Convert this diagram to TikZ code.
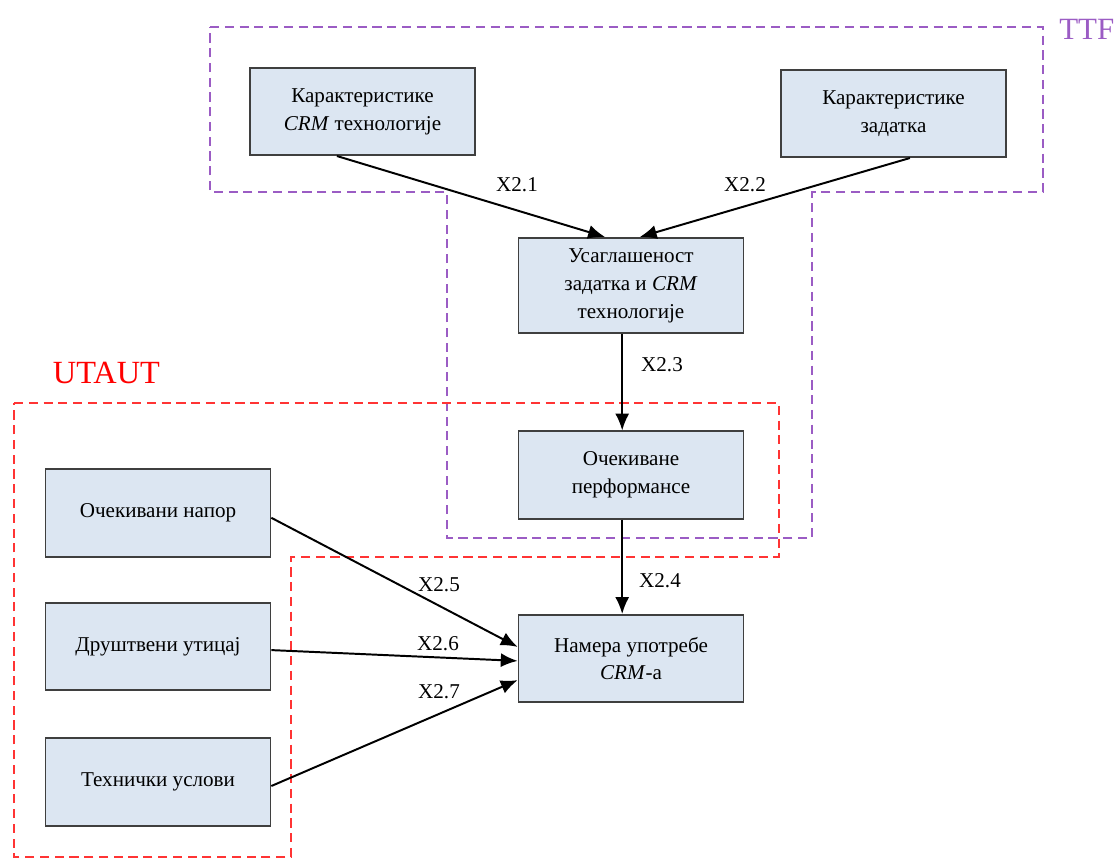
\documentclass[tikz,border=0pt]{standalone}
\usepackage{fontspec}
\setmainfont{Liberation Serif}
\usetikzlibrary{arrows.meta,calc,positioning}
\definecolor{BoxFill}{HTML}{DCE6F2}
\definecolor{BoxEdge}{HTML}{3F3F3F}
\definecolor{TTFPurple}{HTML}{9B5CC4}
\definecolor{UTAUTRed}{HTML}{FF3434}

\begin{document}
\begin{tikzpicture}[x=0.025cm,y=-0.025cm,>={Latex[length=12pt,width=10pt]},
    every node/.style={font=\fontsize{15}{19.8}\selectfont},
    block/.style={draw=BoxEdge,fill=BoxFill,line width=1.3pt,minimum width=5.62cm,
      minimum height=2.18cm,align=center,inner sep=2pt},
    link/.style={->,line width=1.4pt,black},
    region/.style={dash pattern=on 6.5pt off 4pt,line width=1.5pt}]
  \useasboundingbox (0,0) rectangle (1116,859);

  % dashed model regions
  \draw[region,TTFPurple] (210,27) -- (1043,27) -- (1043,192) -- (812,192) -- (812,538)
    -- (447,538) -- (447,192) -- (210,192) -- cycle;
  \draw[region,UTAUTRed] (14,403) -- (779,403) -- (779,557) -- (291,557) -- (291,857)
    -- (14,857) -- cycle;
  \node[font=\fontsize{22}{26}\selectfont,text=TTFPurple,anchor=base east,inner xsep=1pt] (ttf) at (1116,40) {TTF};
  \node[font=\fontsize{23}{26}\selectfont,text=red,anchor=base west] (utaut) at (48,383) {UTAUT};

  % constructs
  \node[block] (crmtech) at (362.5,111.5) {Карактеристике\\\textit{CRM} технологије};
  \node[block] (task) at (893.5,113.5) {Карактеристике\\задатка};
  \node[block,minimum height=2.38cm] (fit) at (631,285.5) {Усаглашеност\\задатка и \textit{CRM}\\технологије};
  \node[block] (perf) at (631,475) {Очекиване\\перформансе};
  \node[block] (intent) at (631,658.5) {Намера употребе\\\textit{CRM}-а};
  \node[block] (effort) at (158,513) {Очекивани напор};
  \node[block] (social) at (158,646.5) {Друштвени утицај};
  \node[block] (cond) at (158,782) {Технички услови};

  % hypotheses
  \draw[link] ([xshift=-0.64cm]crmtech.south) -- ([xshift=-0.65cm]fit.north);
  \draw[link] ([xshift=0.41cm]task.south) -- ([xshift=0.22cm]fit.north);
  \draw[link] ([xshift=-0.22cm]fit.south) -- ([xshift=-0.22cm]perf.north);
  \draw[link] ([xshift=-0.22cm]perf.south) -- ([xshift=-0.22cm]intent.north);
  \draw[link] ([yshift=-0.12cm]effort.east) -- ([yshift=0.29cm]intent.west);
  \draw[link] ([yshift=-0.09cm]social.east) -- ([yshift=-0.06cm]intent.west);
  \draw[link] ([yshift=-0.1cm]cond.east) -- ([yshift=-0.54cm]intent.west);

  \node (h1) at (517,185) {X2.1};
  \node (h2) at (745,185) {X2.2};
  \node (h3) at (662,365) {X2.3};
  \node (h4) at (660,581) {X2.4};
  \node (h5) at (439,585) {X2.5};
  \node (h6) at (438,644) {X2.6};
  \node (h7) at (439,692) {X2.7};
\end{tikzpicture}
\end{document}
